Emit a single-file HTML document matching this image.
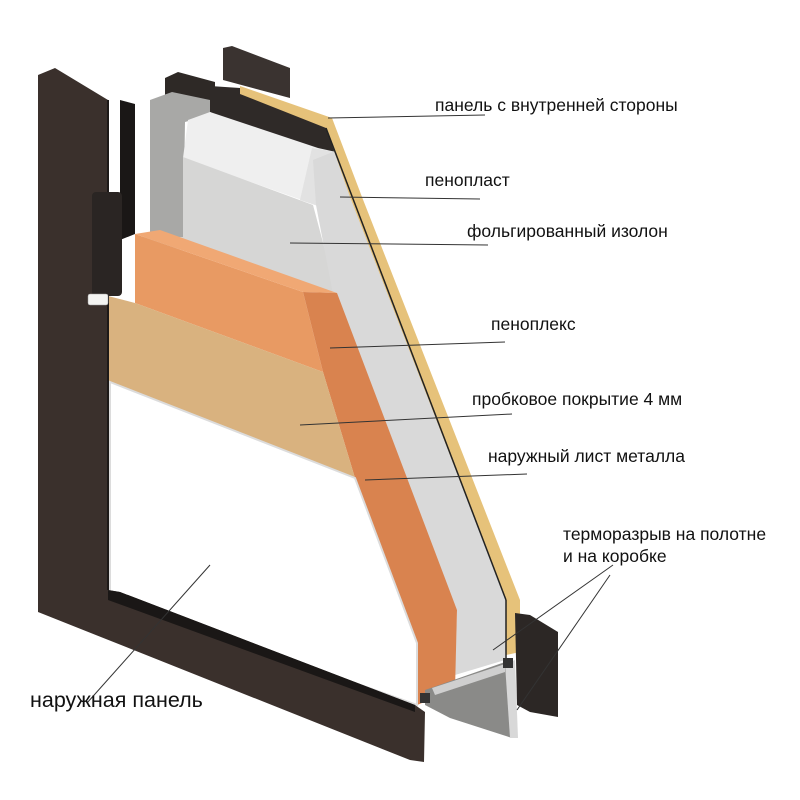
<!DOCTYPE html>
<html><head><meta charset="utf-8"><style>
html,body{margin:0;padding:0;background:#fff;}
svg{display:block}
text{font-family:"Liberation Sans",Arial,sans-serif;fill:#111;}
</style></head><body>
<svg width="800" height="800" viewBox="0 0 800 800" xmlns="http://www.w3.org/2000/svg">
<polygon points="223,48 232,46 290,68 290,98 223,80" fill="#3a3330"/>
<polygon points="165,78 178,72 215,82 215,112 165,100" fill="#2e2926"/>
<polygon points="210,86 240,88 330,120 337,150 313,160 210,112" fill="#2f2a28"/>
<polygon points="150,100 172,92 210,100 210,115 185,122 183,240 150,240" fill="#a8a8a6"/>
<polygon points="188,120 210,112 318,148 336,152 316,205 183,158" fill="#efefef"/>
<polygon points="312,148 336,152 318,206 300,200" fill="#e2e2e2"/>
<polygon points="183,157 313,205 337,295 137,237 183,237" fill="#d6d6d5"/>
<polygon points="313,160 338,150 350,197 508,600 505,660 455,675 457,610 333,294 316,205" fill="#d9d9d9"/>
<polygon points="135,234 303,292 323,372 135,303" fill="#e89a63"/>
<polygon points="135,234 160,230 337,293 303,292" fill="#f0a874"/>
<polygon points="303,292 337,293 457,610 455,690 417,705 417,643 355,478 323,372" fill="#d9834f"/>
<polygon points="108,296 135,303 323,372 355,478 108,382" fill="#d9b27f"/>
<polygon points="110,382 355,478 417,643 417,705 110,596" fill="#ffffff" stroke="#dcdcdc" stroke-width="2"/>
<polygon points="240,86 332,118 362,197 520,600 520,652 506,655 506,600 350,197 326,128 240,94" fill="#e6c27a"/>
<line x1="326" y1="128" x2="506" y2="600" stroke="#222" stroke-width="1.5"/>
<line x1="506" y1="600" x2="506" y2="660" stroke="#222" stroke-width="1.5"/>
<polygon points="515,613 530,615 558,632 558,717 530,712 517,705" fill="#2c2725"/>
<polygon points="425,690 505,662 512,738 450,718 425,705" fill="#8a8a88"/>
<polygon points="432,688 505,664 505,672 435,695" fill="#cfcfcf"/>
<polygon points="505,664 515,660 518,738 510,738" fill="#d8d8d8"/>
<rect x="503" y="658" width="10" height="10" fill="#333"/>
<rect x="420" y="693" width="10" height="10" fill="#333"/>
<polygon points="38,75 55,68 108,100 108,590 120,592 415,705 425,712 424,762 410,760 38,612" fill="#3a302c"/>
<line x1="108" y1="100" x2="108" y2="590" stroke="#1d1918" stroke-width="2"/>
<polygon points="120,100 135,104 135,234 120,240" fill="#1a1716"/>
<polygon points="108,590 120,592 415,705 415,712 108,600" fill="#1a1716"/>
<rect x="92" y="192" width="30" height="104" rx="4" fill="#2a2523"/>
<rect x="88" y="294" width="20" height="11" rx="2" fill="#f4f4f2" stroke="#999" stroke-width="0.5"/>
<g stroke="#333" stroke-width="1" fill="none">
<line x1="328" y1="118" x2="485" y2="115"/>
<line x1="340" y1="197" x2="480" y2="199"/>
<line x1="290" y1="243" x2="488" y2="245"/>
<line x1="330" y1="348" x2="505" y2="342"/>
<line x1="300" y1="425" x2="512" y2="414"/>
<line x1="365" y1="480" x2="527" y2="474"/>
<line x1="613" y1="565" x2="493" y2="650"/>
<line x1="610" y1="575" x2="517" y2="710"/>
<line x1="210" y1="565" x2="87" y2="703"/>
</g>
<g font-size="17.5">
<text x="435" y="111">панель с внутренней стороны</text>
<text x="425" y="186">пенопласт</text>
<text x="467" y="237">фольгированный изолон</text>
<text x="491" y="330">пеноплекс</text>
<text x="472" y="405">пробковое покрытие 4 мм</text>
<text x="488" y="462">наружный лист металла</text>
<text x="563" y="540">терморазрыв на полотне</text>
<text x="563" y="562">и на коробке</text>
</g>
<text x="30" y="707" font-size="21.5">наружная панель</text>
</svg>
</body></html>
